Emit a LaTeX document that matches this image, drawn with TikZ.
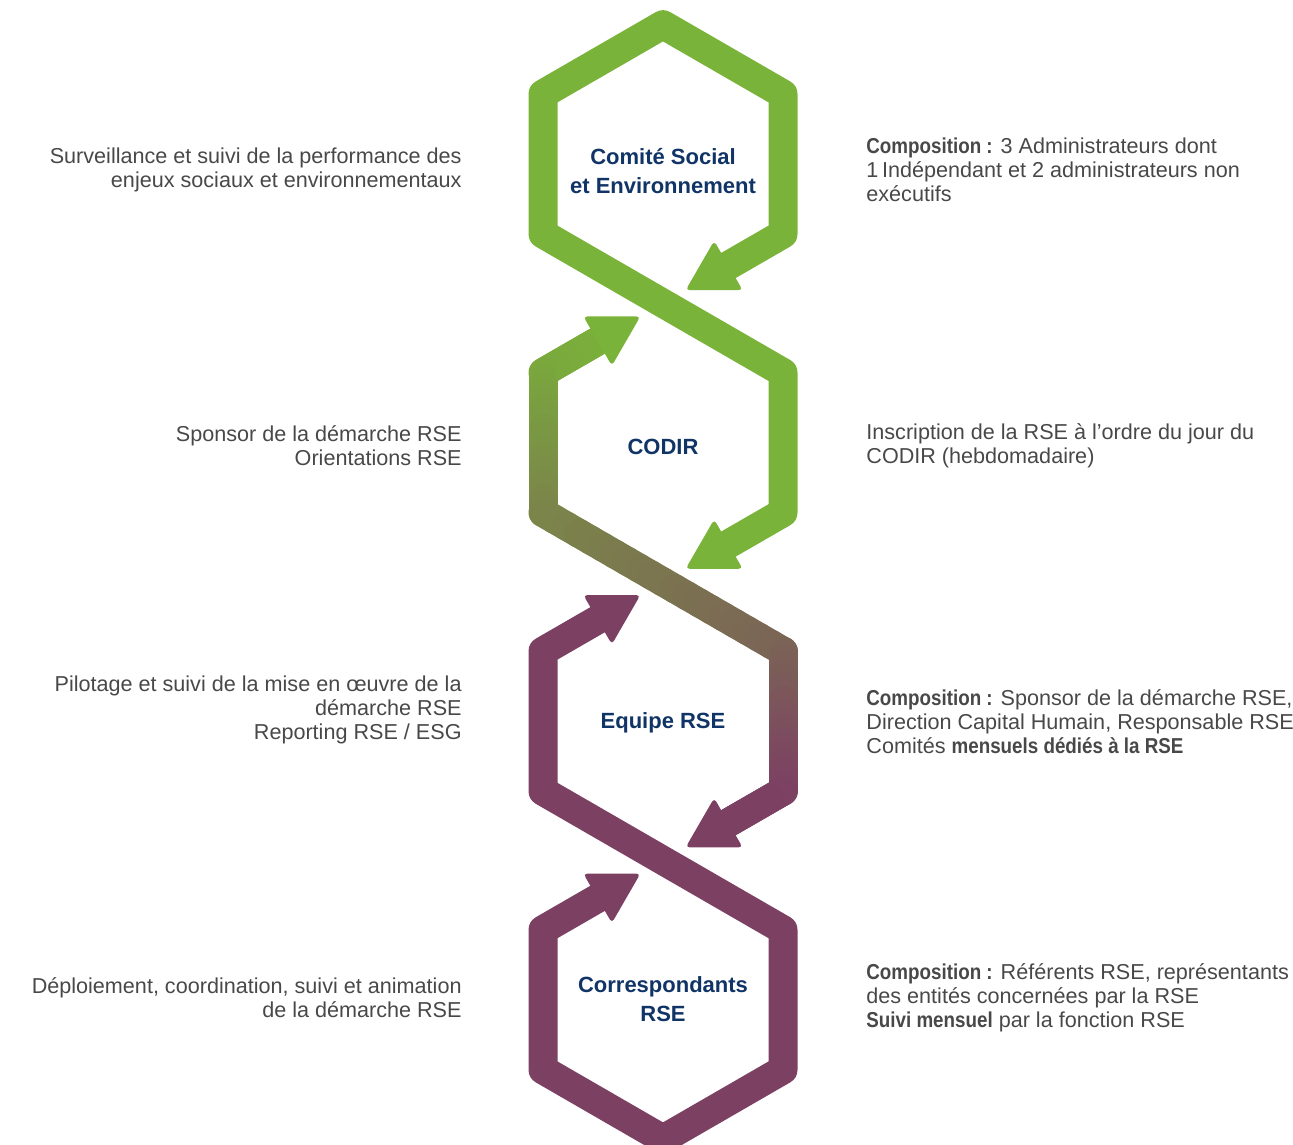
\documentclass[tikz,border=0pt]{standalone}
\usepackage{fontspec}
\setmainfont{Liberation Sans}
\newfontfamily\compfont{Liberation Sans}[BoldFeatures={FakeStretch=0.87}]
\usepackage{tikz}

\definecolor{rsegreen}{RGB}{122,179,57}
\definecolor{rsepurple}{RGB}{124,64,99}
\definecolor{rsenavy}{RGB}{16,52,102}
\definecolor{rsegray}{RGB}{72,72,72}

\begin{document}
\begin{tikzpicture}[x=0.5pt, y=-0.5pt,
  band/.style={line width=14.5pt, line cap=round, line join=round},
  tiphead/.style={rounded corners=2pt},
  desc/.style={font=\fontsize{10.8}{12}\selectfont, text=rsegray, inner sep=0pt},
  comp/.style={desc, font=\compfont\fontsize{10.8}{12}\selectfont, anchor=west, align=left},
  hexlabel/.style={font=\bfseries\fontsize{11}{14.5}\selectfont, text=rsenavy, align=center, inner sep=0pt}]
  \useasboundingbox (0,0) rectangle (1293,1144);

  % green band: Comite hexagon and right side of CODIR
  \draw[band, rsegreen] (728.4,265.5) -- (783,234) -- (783,94) -- (663,24.7) -- (543,94) -- (543,234)
    -- (783,372.6) -- (783,512.6) -- (728.4,544.1);
  \fill[rsegreen, tiphead, shift={(728.4,265.5)}, rotate=210] (49.4,0) -- (0,28.5) -- (0,-28.5) -- cycle;
  \fill[rsegreen, tiphead, shift={(728.4,544.1)}, rotate=210] (49.4,0) -- (0,28.5) -- (0,-28.5) -- cycle;

  % green to purple band: left side of CODIR and right side of Equipe
  \foreach \xa/\ya/\xb/\yb in {597.6/341.1/543/372.6, 543/372.6/543/512.6, 543/512.6/783/651.2,
                               783/651.2/783/791.2, 783/791.2/728.4/822.7}{
    \foreach \k in {1,...,20}{
      \pgfmathsetmacro{\ta}{(\k-1)/20}
      \pgfmathsetmacro{\tb}{\k/20}
      \pgfmathsetmacro{\pc}{max(0,min(100,(800-(\ya+(\yb-\ya)*(\k-0.5)/20))/4.7))}
      \draw[band, rsegreen!\pc!rsepurple] ({\xa+(\xb-\xa)*\ta},{\ya+(\yb-\ya)*\ta})
        -- ({\xa+(\xb-\xa)*\tb},{\ya+(\yb-\ya)*\tb});
    }
  }
  \fill[rsegreen, tiphead, shift={(597.6,341.1)}, rotate=30] (49.4,0) -- (0,28.5) -- (0,-28.5) -- cycle;
  \fill[rsepurple, tiphead, shift={(728.4,822.7)}, rotate=210] (49.4,0) -- (0,28.5) -- (0,-28.5) -- cycle;

  % purple band: left side of Equipe and Correspondants hexagon
  \draw[band, rsepurple] (597.6,619.7) -- (543,651.2) -- (543,791.2) -- (783,929.8) -- (783,1069.8)
    -- (663,1139.1) -- (543,1069.8) -- (543,929.8) -- (597.6,898.3);
  \fill[rsepurple, tiphead, shift={(597.6,619.7)}, rotate=30] (49.4,0) -- (0,28.5) -- (0,-28.5) -- cycle;
  \fill[rsepurple, tiphead, shift={(597.6,898.3)}, rotate=30] (49.4,0) -- (0,28.5) -- (0,-28.5) -- cycle;

  % hexagon labels
  \node[hexlabel] (labelCSE) at (663,171.5) {Comité Social\\et Environnement};
  \node[hexlabel] (labelCODIR) at (663,447) {CODIR};
  \node[hexlabel] (labelEquipe) at (663,723) {Equipe RSE};
  \node[hexlabel] (labelCorresp) at (663,999.5) {Correspondants\\RSE};

  % roles, left
  \node[desc, anchor=east, align=right] (roleCSE) at (462,170)
    {Surveillance et suivi de la performance des\\enjeux sociaux et environnementaux};
  \node[desc, anchor=east, align=right] (roleCODIR) at (462,446)
    {Sponsor de la démarche RSE\\Orientations RSE};
  \node[desc, anchor=east, align=right] (roleEquipe) at (462,710)
    {Pilotage et suivi de la mise en œuvre de la\\démarche RSE\\Reporting RSE / ESG};
  \node[desc, anchor=east, align=right] (roleCorresp) at (462,998)
    {Déploiement, coordination, suivi et animation\\de la démarche RSE};

  % composition, right
  \node[comp] (compCSE) at (866,170)
    {\textbf{Composition :} 3 Administrateurs dont\\1\,Indépendant et 2 administrateurs non\\exécutifs};
  \node[comp] (compCODIR) at (866,446)
    {Inscription de la RSE à l’ordre du jour du\\CODIR (hebdomadaire)};
  \node[comp] (compEquipe) at (866,722)
    {\textbf{Composition :} Sponsor de la démarche RSE,\\Direction Capital Humain, Responsable RSE\\Comités \textbf{mensuels dédiés à la RSE}};
  \node[comp] (compCorresp) at (866,998)
    {\textbf{Composition :} Référents RSE, représentants\\des entités concernées par la RSE\\\textbf{Suivi mensuel} par la fonction RSE};
\end{tikzpicture}
\end{document}
